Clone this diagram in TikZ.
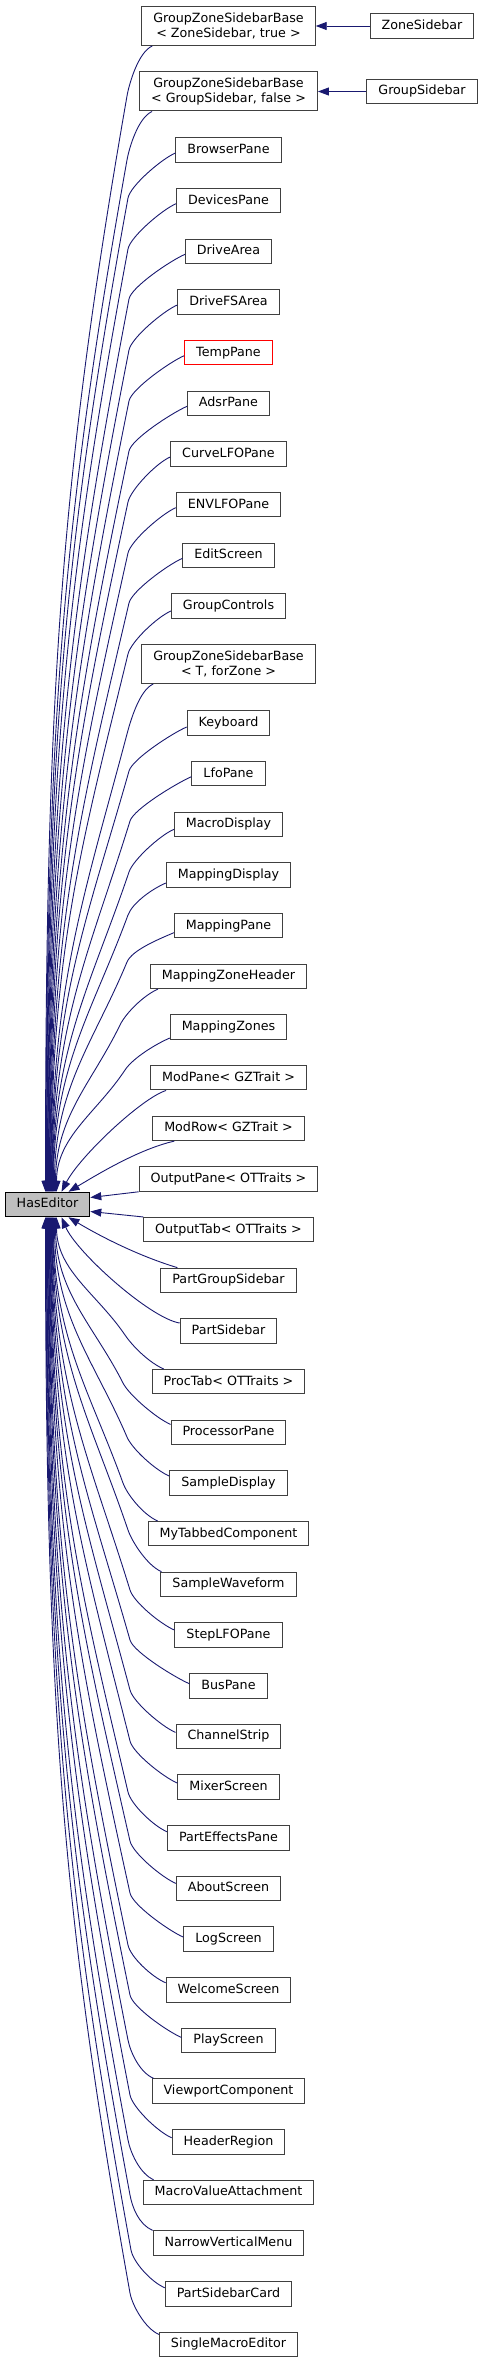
\documentclass[tikz,border=0pt]{standalone}
\usepackage{fontspec}
\newfontfamily\dvsans{DejaVu Sans}
\usetikzlibrary{arrows.meta}
\definecolor{edgeblue}{RGB}{25,25,112}
\definecolor{basegray}{RGB}{191,191,191}
\definecolor{boxgray}{RGB}{64,64,64}

\begin{document}
\begin{tikzpicture}[x=1pt, y=-1pt,
  clsbox/.style={draw=boxgray, line width=1pt, fill=white, inner xsep=11.5pt, inner ysep=0pt,
    font=\dvsans\fontsize{12.7pt}{14.3pt}\selectfont},
  cls/.style={clsbox, minimum height=24.5pt, text height=9.6pt, text depth=2.7pt},
  cls2/.style={clsbox, minimum height=39pt, align=center},
  inh/.style={draw=edgeblue, line width=0.9pt, -{Triangle[length=11pt, width=8pt]}}]
  \useasboundingbox (0,0) rectangle (483,2363);

  % column centre and row spacing (pixels of the class graph)
  \def\cx{228.5}
  \def\pitch{50.67}

  % edge from a class above the base: bend, then run down into HasEditor
  \def\upedge#1#2#3#4{%
    \pgfmathsetmacro\edy{1192-#3}%
    \pgfmathsetmacro\elean{(#2-47.5-#4)/\edy+0.1}%
    \draw[inh] (#1) .. controls +(-14,6) and +(12*\elean,-12) .. (#2,#3)
      .. controls +(-0.35*\elean*\edy,0.35*\edy) and +(0,-0.45*\edy) .. ([xshift=#4]editor.north);}
  % same for a class below the base
  \def\dnedge#1#2#3#4{%
    \pgfmathsetmacro\edy{#3-1217}%
    \pgfmathsetmacro\elean{(#2-47.5-#4)/\edy+0.1}%
    \draw[inh] (#1) .. controls +(-14,-6) and +(12*\elean,12) .. (#2,#3)
      .. controls +(-0.35*\elean*\edy,-0.35*\edy) and +(0,0.45*\edy) .. ([xshift=#4]editor.south);}

  % --- base class ---
  \node[cls, fill=basegray, draw=black] (editor) at (47.5,1204.5) {HasEditor};

  % --- derived classes, upper half ---
  \node[cls2] (gzsbzone) at (\cx,26) {GroupZoneSidebarBase\\< ZoneSidebar, true >};
  \node[cls2] (gzsbgroup) at (\cx,91.5) {GroupZoneSidebarBase\\< GroupSidebar, false >};
  \node[cls] (zonesb) at (422,26) {ZoneSidebar};
  \node[cls] (groupsb) at (422,91.5) {GroupSidebar};
  \node[cls] (browser) at (\cx,150) {BrowserPane};
  \node[cls] (devices) at (\cx,150+\pitch) {DevicesPane};
  \node[cls] (drivearea) at (\cx,150+2*\pitch) {DriveArea};
  \node[cls] (drivefs) at (\cx,150+3*\pitch) {DriveFSArea};
  \node[cls, draw=red] (temppane) at (\cx,150+4*\pitch) {TempPane};
  \node[cls] (adsr) at (\cx,150+5*\pitch) {AdsrPane};
  \node[cls] (curvelfo) at (\cx,150+6*\pitch) {CurveLFOPane};
  \node[cls] (envlfo) at (\cx,150+7*\pitch) {ENVLFOPane};
  \node[cls] (editscr) at (\cx,150+8*\pitch) {EditScreen};
  \node[cls] (groupctl) at (\cx,150+9*\pitch) {GroupControls};
  \node[cls2] (gzsbt) at (\cx,664) {GroupZoneSidebarBase\\< T, forZone >};
  \node[cls] (keyboard) at (\cx,723) {Keyboard};
  \node[cls] (lfopane) at (\cx,723+\pitch) {LfoPane};
  \node[cls] (macrodisp) at (\cx,723+2*\pitch) {MacroDisplay};
  \node[cls] (mapdisp) at (\cx,723+3*\pitch) {MappingDisplay};
  \node[cls] (mappane) at (\cx,723+4*\pitch) {MappingPane};
  \node[cls] (mapzhead) at (\cx,723+5*\pitch) {MappingZoneHeader};
  \node[cls] (mapzones) at (\cx,723+6*\pitch) {MappingZones};
  \node[cls] (modpane) at (\cx,723+7*\pitch) {ModPane< GZTrait >};
  \node[cls] (modrow) at (\cx,723+8*\pitch) {ModRow< GZTrait >};
  \node[cls] (outpane) at (\cx,723+9*\pitch) {OutputPane< OTTraits >};

  % --- derived classes, lower half ---
  \node[cls] (outtab) at (\cx,723+10*\pitch) {OutputTab< OTTraits >};
  \node[cls] (partgroup) at (\cx,723+11*\pitch) {PartGroupSidebar};
  \node[cls] (partsb) at (\cx,723+12*\pitch) {PartSidebar};
  \node[cls] (proctab) at (\cx,723+13*\pitch) {ProcTab< OTTraits >};
  \node[cls] (procpane) at (\cx,723+14*\pitch) {ProcessorPane};
  \node[cls] (sampledisp) at (\cx,723+15*\pitch) {SampleDisplay};
  \node[cls] (mytabbed) at (\cx,723+16*\pitch) {MyTabbedComponent};
  \node[cls] (samplewave) at (\cx,723+17*\pitch) {SampleWaveform};
  \node[cls] (steplfo) at (\cx,723+18*\pitch) {StepLFOPane};
  \node[cls] (buspane) at (\cx,723+19*\pitch) {BusPane};
  \node[cls] (chanstrip) at (\cx,723+20*\pitch) {ChannelStrip};
  \node[cls] (mixerscr) at (\cx,723+21*\pitch) {MixerScreen};
  \node[cls] (parteff) at (\cx,723+22*\pitch) {PartEffectsPane};
  \node[cls] (aboutscr) at (\cx,723+23*\pitch) {AboutScreen};
  \node[cls] (logscr) at (\cx,723+24*\pitch) {LogScreen};
  \node[cls] (welcome) at (\cx,723+25*\pitch) {WelcomeScreen};
  \node[cls] (playscr) at (\cx,723+26*\pitch) {PlayScreen};
  \node[cls] (viewport) at (\cx,723+27*\pitch) {ViewportComponent};
  \node[cls] (header) at (\cx,723+28*\pitch) {HeaderRegion};
  \node[cls] (macroval) at (\cx,723+29*\pitch) {MacroValueAttachment};
  \node[cls] (narrowmenu) at (\cx,723+30*\pitch) {NarrowVerticalMenu};
  \node[cls] (partcard) at (\cx,723+31*\pitch) {PartSidebarCard};
  \node[cls] (singlemacro) at (\cx,723+32*\pitch) {SingleMacroEditor};

  % --- second level ---
  \draw[inh] (zonesb.west) -- (gzsbzone.east);
  \draw[inh] (groupsb.west) -- (gzsbgroup.east);

  % --- edges into HasEditor from above ---
  \upedge{[xshift=11]gzsbzone.south west}{127}{96}{-2}
  \upedge{[xshift=13]gzsbgroup.south west}{127}{160}{-1.5}
  \upedge{[yshift=-3]browser.west}{128}{198}{-1}
  \upedge{[yshift=-3]devices.west}{128}{249}{-0.5}
  \upedge{[yshift=-3]drivearea.west}{129}{299}{0}
  \upedge{[yshift=-3]drivefs.west}{129}{350}{0.5}
  \upedge{[yshift=-3]temppane.west}{129}{401}{1}
  \upedge{[yshift=-3]adsr.west}{129}{451}{1.5}
  \upedge{[yshift=-3]curvelfo.west}{128}{502}{2}
  \upedge{[yshift=-3]envlfo.west}{128}{553}{2.5}
  \upedge{[yshift=-3]editscr.west}{129}{603}{3}
  \upedge{[yshift=-5]groupctl.west}{128}{654}{3.5}
  \upedge{[xshift=12]gzsbt.south west}{127}{734}{4}
  \upedge{[yshift=-4]keyboard.west}{129}{771}{4.5}
  \upedge{[yshift=-3]lfopane.west}{130}{821}{5}
  \upedge{[yshift=-5]macrodisp.west}{129}{872}{5.5}
  \upedge{[yshift=-8]mapdisp.west}{128}{915}{6}
  \upedge{[yshift=-7]mappane.west}{127}{962}{7}
  \upedge{[xshift=8]mapzhead.south west}{120}{1025}{8}
  \upedge{[yshift=-11]mapzones.west}{125}{1070}{9}
  \draw[inh] ([xshift=16]modpane.south west) .. controls +(-25,8) and +(18,-35) .. ([xshift=14]editor.north);
  \draw[inh] ([xshift=22]modrow.south west) .. controls +(-35,8) and +(30,-18) .. ([xshift=21]editor.north);
  \draw[inh] (outpane.south west) -- ([yshift=7]editor.east);

  % --- edges into HasEditor from below ---
  \draw[inh] (outtab.north west) -- ([yshift=-7]editor.east);
  \draw[inh] ([xshift=17]partgroup.north west) .. controls +(-40,-12) and +(30,18) .. ([xshift=21]editor.south);
  \draw[inh] ([yshift=8]partsb.west) .. controls +(-30,-5) and +(15,35) .. ([xshift=14]editor.south);
  \dnedge{[xshift=12]proctab.north west}{125}{1335}{9}
  \dnedge{[yshift=8]procpane.west}{123}{1383}{8}
  \dnedge{[yshift=7]sampledisp.west}{127}{1437}{7}
  \dnedge{[xshift=10]mytabbed.north west}{123}{1483}{6}
  \dnedge{[xshift=1]samplewave.north west}{128}{1530}{5.5}
  \dnedge{[yshift=5]steplfo.west}{130}{1590}{5}
  \dnedge{[yshift=2]buspane.west}{130}{1640}{4.5}
  \dnedge{[yshift=4]chanstrip.west}{130}{1690}{4}
  \dnedge{[yshift=4]mixerscr.west}{130}{1741}{3.5}
  \dnedge{[yshift=6]parteff.west}{128}{1792}{3}
  \dnedge{[yshift=5]aboutscr.west}{130}{1841}{2.5}
  \dnedge{[yshift=2]logscr.west}{130}{1893}{2}
  \dnedge{[yshift=7]welcome.west}{128}{1945}{1.5}
  \dnedge{[yshift=3]playscr.west}{130}{1995}{1}
  \dnedge{[xshift=2]viewport.north west}{128}{2040}{0.5}
  \dnedge{[yshift=4]header.west}{130}{2095}{0}
  \dnedge{[xshift=11]macroval.north west}{128}{2140}{-0.5}
  \dnedge{narrowmenu.north west}{130}{2195}{-1}
  \dnedge{[yshift=6]partcard.west}{131}{2250}{-1.5}
  \dnedge{[yshift=10]singlemacro.west}{130}{2293}{-2}
\end{tikzpicture}
\end{document}
